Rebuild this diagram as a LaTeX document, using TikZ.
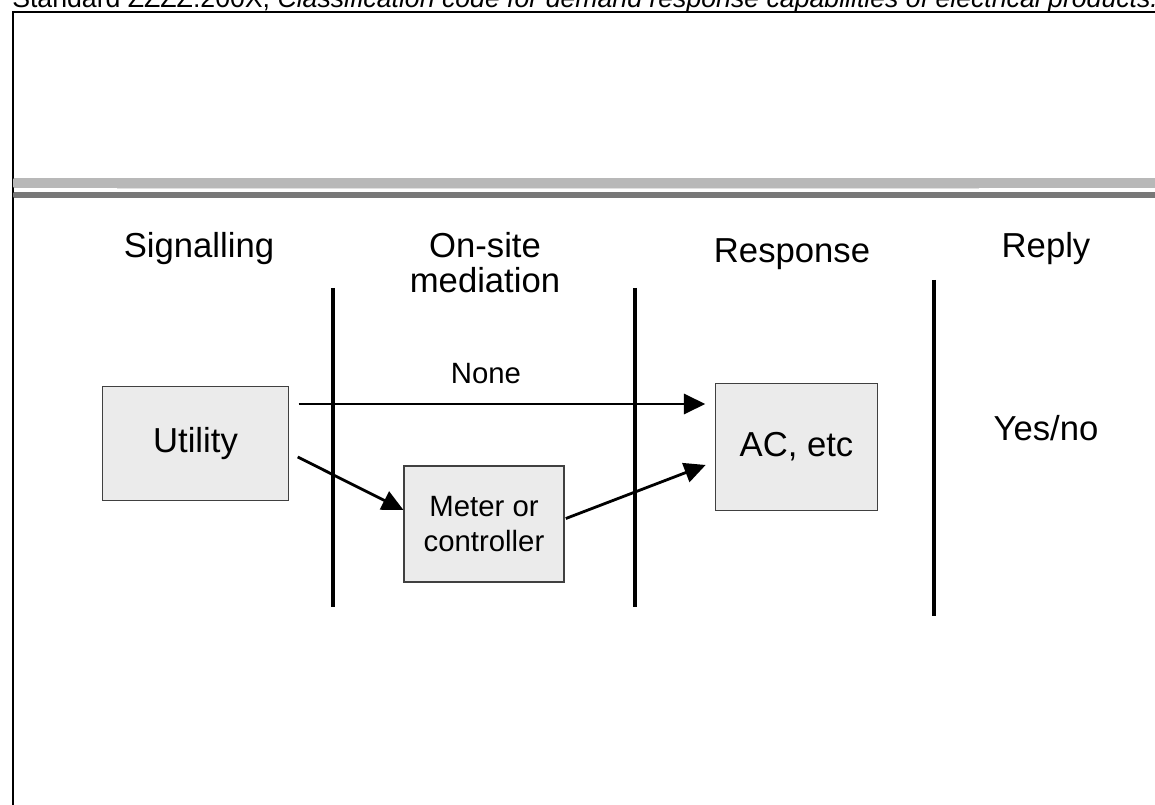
\documentclass[tikz,border=0pt]{standalone}
\usepackage{fontspec}
\setmainfont{Liberation Sans}
\usetikzlibrary{arrows.meta, positioning}

\begin{document}
\begin{tikzpicture}[x=0.75pt, y=-0.75pt,
  box/.style={draw=black!75, fill=black!8, line width=0.8pt, align=center, inner sep=0pt},
  divider/.style={line width=2.4pt},
  sig/.style={line width=2.1pt, -{Triangle[length=16pt, width=15pt]}},
  head/.style={font=\fontsize{26}{25.5}\selectfont, align=center},
  big/.style={font=\fontsize{26}{31}\selectfont},
  small/.style={font=\fontsize{22}{26}\selectfont, align=center}]
\useasboundingbox (0,0) rectangle (1155,805);

% title, cut off by the page
\node[anchor=base west, inner sep=0pt, font=\fontsize{20}{24}\selectfont] (title) at (12,8)
  {Standard ZZZZ:200X, \textit{Classification code for demand response capabilities of electrical products.}};

% frame and banner
\draw[line width=1.5pt] (12.5,830) -- (12.5,12.5) -- (1180,12.5);
\shade[left color=black!28, middle color=black!9, right color=black!28] (13.5,179) rectangle (1180,188);
\draw[black!12, line width=0.8pt] (117,188.5) -- (979,188.5);
\shade[left color=black!53, middle color=black!20, right color=black!53] (13.5,193) rectangle (1180,198);

% column heads
\node[head, anchor=base] (hsig) at (199,258) {Signalling};
\node[head, anchor=base] (hmed) at (485,292) {On-site\\mediation};
\node[head, anchor=base] (hresp) at (792,263) {Response};
\node[head, anchor=base] (hrep) at (1046,258) {Reply};

% dividers
\draw[divider] (333,288) -- (333,607);
\draw[divider] (635,288) -- (635,607);
\draw[divider] (934,280) -- (934,616);

% boxes
\node[box, big, minimum width=140pt, minimum height=86pt] (util) at (195.5,443.5) {Utility};
\node[box, small, minimum width=120pt, minimum height=87pt] (meter) at (484,524) {Meter or\\controller};
\node[box, big, minimum width=122pt, minimum height=95pt] (ac) at (796.5,447) {AC, etc};
\node[big] (yesno) at (1046,428) {Yes/no};

% signals
\coordinate (nonelvl) at (500,404);
\draw[sig, shorten <=7pt, shorten >=7pt] (util.east |- nonelvl) -- (ac.west |- nonelvl);
\node[small, anchor=base] (nonelbl) at (486,383) {None};
\draw[sig, shorten <=7pt] ([yshift=-7pt]util.east) -- ([yshift=10.5pt]meter.west);
\draw[sig, shorten <=1pt, shorten >=7.2pt] ([yshift=3.75pt]meter.east) -- ([yshift=-10.9pt]ac.west);
\end{tikzpicture}
\end{document}
